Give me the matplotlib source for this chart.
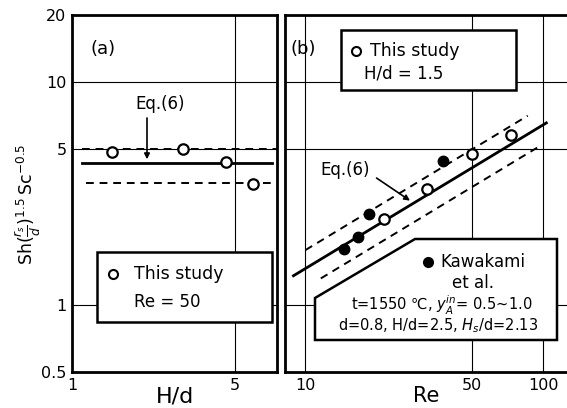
import numpy as np
import matplotlib.pyplot as plt
from matplotlib.patches import Polygon, Rectangle

# (a) Sh number vs H/d at Re = 50
hd_a = [1.48, 3.0, 4.58, 5.98]
sh_a = [4.85, 5.0, 4.38, 3.48]
eq6_a = 4.33
band_a = [5.0, 3.52]

# (b) Sh number vs Re at H/d = 1.5
re_b = [21.3, 32.4, 50, 73]
sh_b = [2.43, 3.31, 4.75, 5.78]
re_kawa = [14.5, 16.6, 18.5, 37.9]
sh_kawa = [1.78, 2.02, 2.56, 4.42]
# Eq.(6) line and scatter band: Sh = c * Re**n
eq6_c, eq6_n = 0.33, 0.645
band_hi, band_lo = 1.21, 0.82

W, H = 567, 408
fig = plt.figure(figsize=(W / 100, H / 100), dpi=100)
plt.rcParams['font.family'] = 'DejaVu Sans'


def px_axes(x0, y0, x1, y1):
    return fig.add_axes([x0 / W, 1 - y1 / H, (x1 - x0) / W, (y1 - y0) / H])


ax1 = px_axes(72, 15, 277, 372)
ax2 = px_axes(285, 15, 568, 372)

for ax in (ax1, ax2):
    ax.set_yscale('log')
    ax.set_xscale('log')
    ax.set_ylim(0.5, 20)
    ax.tick_params(length=0, labelsize=11.5, pad=4)
    ax.minorticks_off()
    for s in ax.spines.values():
        s.set_linewidth(2)
    ax.set_yticks([0.5, 1, 5, 10, 20])
    ax.set_yticklabels(['0.5', '1', '5', '10', '20'])
    for y in (1, 10):
        ax.axhline(y, color='k', lw=0.8, zorder=0)

ax2.spines['right'].set_visible(False)
ax2.set_yticklabels([])

arrow = dict(arrowstyle='-|>', color='k', lw=1.2, mutation_scale=8,
             shrinkA=0, shrinkB=0)

# ---- panel (a)
ax1.set_xlim(1, 7.6)
ax1.set_xticks([1, 5])
ax1.set_xticklabels(['1', '5'])
ax1.axvline(5, color='k', lw=0.8, zorder=0)
ax1.axhline(5, color='k', lw=0.8, zorder=0)
ax1.plot([1.1, 7.2], [eq6_a, eq6_a], color='k', lw=2)
ax1.plot([1.1, 7.6], [band_a[0], band_a[0]], color='k', lw=1.4, ls=(0, (4, 3)))
ax1.plot([1.15, 7.3], [band_a[1], band_a[1]], color='k', lw=1.4, ls=(0, (4, 3)))
ax1.plot(hd_a, sh_a, 'o', mfc='white', mec='k', mew=1.6, ms=7.5, zorder=5)
ax1.text(2.39, 7.3, 'Eq.(6)', ha='center', va='bottom', fontsize=12)
ax1.annotate('', xy=(2.1, eq6_a * 1.04), xytext=(2.1, 6.9), arrowprops=arrow)
ax1.text(0.09, 0.93, '(a)', transform=ax1.transAxes, fontsize=13, va='top')
ax1.add_patch(Rectangle((0.12, 0.14), 0.855, 0.195, transform=ax1.transAxes,
                        fc='white', ec='k', lw=1.8, zorder=6))
ax1.plot([0.2], [0.275], 'o', mfc='white', mec='k', mew=1.5, ms=6.5,
         transform=ax1.transAxes, zorder=7)
ax1.text(0.3, 0.275, 'This study', transform=ax1.transAxes, fontsize=12.5,
         va='center', zorder=7)
ax1.text(0.3, 0.195, 'Re = 50', transform=ax1.transAxes, fontsize=12,
         va='center', zorder=7)
ax1.set_xlabel('H/d', fontsize=16, labelpad=-4)
ax1.set_ylabel(r'$\mathrm{Sh}(\frac{r_s}{d})^{1.5}\,\mathrm{Sc}^{-0.5}$',
               fontsize=12.5)
ax1.yaxis.set_label_coords(-29 / 205, 0.47)

# ---- panel (b)
ax2.set_xlim(8.2, 127)
ax2.set_xticks([10, 50, 100])
ax2.set_xticklabels(['10', '50', '100'])
for x in (10, 50, 100):
    ax2.axvline(x, color='k', lw=0.8, zorder=0)
ax2.axhline(5, color='k', lw=0.8, zorder=0)

re_line = np.array([8.9, 103])
ax2.plot(re_line, eq6_c * re_line ** eq6_n, color='k', lw=2)
re_hi = np.array([10, 86])
ax2.plot(re_hi, band_hi * eq6_c * re_hi ** eq6_n, color='k', lw=1.4, ls=(0, (4, 3)))
re_lo = np.array([11.6, 95])
ax2.plot(re_lo, band_lo * eq6_c * re_lo ** eq6_n, color='k', lw=1.4, ls=(0, (4, 3)))
ax2.plot(re_b, sh_b, 'o', mfc='white', mec='k', mew=1.6, ms=7.5, zorder=5)
ax2.plot(re_kawa, sh_kawa, 'o', mfc='k', mec='k', ms=7.5, zorder=5)
x_arr = 27.5
ax2.text(11.6, 4.03, 'Eq.(6)', ha='left', va='center', fontsize=12)
ax2.annotate('', xy=(x_arr, eq6_c * x_arr ** eq6_n * 1.05), xytext=(19.9, 3.71),
             arrowprops=arrow)
ax2.text(0.02, 0.93, '(b)', transform=ax2.transAxes, fontsize=13, va='top')

# upper box
ax2.add_patch(Rectangle((0.198, 0.79), 0.62, 0.168, transform=ax2.transAxes,
                        fc='white', ec='k', lw=1.8, zorder=6))
ax2.plot([0.25], [0.9], 'o', mfc='white', mec='k', mew=1.5, ms=6.5,
         transform=ax2.transAxes, zorder=7)
ax2.text(0.3, 0.9, 'This study', transform=ax2.transAxes, fontsize=12.5,
         va='center', zorder=7)
ax2.text(0.28, 0.835, 'H/d = 1.5', transform=ax2.transAxes, fontsize=12,
         va='center', zorder=7)


# lower box with cut corner
def ap(x, y):
    return ((x - 285) / 283, 1 - (y - 15) / 357)


box = [ap(315, 340), ap(315, 298), ap(415, 239), ap(557, 239), ap(557, 340)]
ax2.add_patch(Polygon(box, closed=True, transform=ax2.transAxes,
                      fc='white', ec='k', lw=1.8, zorder=6))
ax2.plot(*ap(428, 262), 'o', mfc='k', mec='k', ms=7, transform=ax2.transAxes, zorder=7)
ax2.text(*ap(440, 262), 'Kawakami', transform=ax2.transAxes, fontsize=12,
         va='center', zorder=7)
ax2.text(*ap(473, 283), 'et al.', transform=ax2.transAxes, fontsize=12,
         va='center', ha='center', zorder=7)
ax2.text(*ap(442, 305), r't=1550 ℃, $y_A^{in}$= 0.5~1.0', transform=ax2.transAxes,
         fontsize=10.5, va='center', ha='center', zorder=7)
ax2.text(*ap(438, 326), r'd=0.8, H/d=2.5, $H_s$/d=2.13', transform=ax2.transAxes,
         fontsize=10.5, va='center', ha='center', zorder=7)
ax2.set_xlabel('Re', fontsize=15, labelpad=-5)

fig.savefig('out.png', dpi=100)
